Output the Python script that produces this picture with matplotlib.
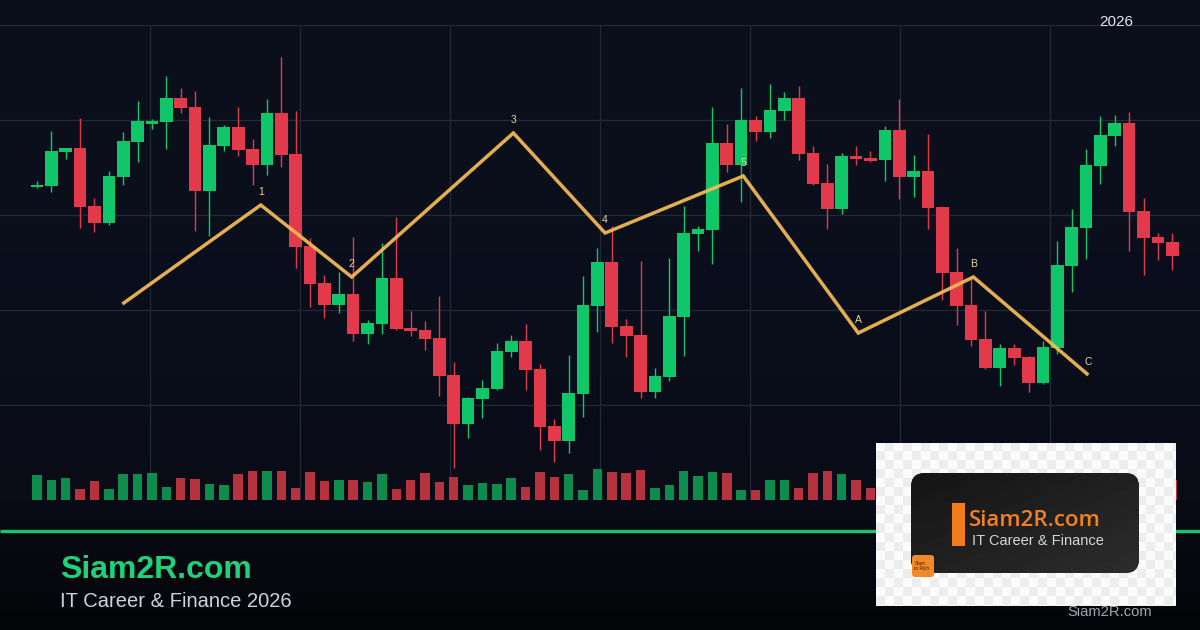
import numpy as np
import matplotlib
matplotlib.use("Agg")
import matplotlib.pyplot as plt
from matplotlib.patches import FancyBboxPatch, Rectangle
from matplotlib.colors import to_rgb

plt.rcParams['font.family'] = ['Liberation Sans', 'DejaVu Sans']

# ---------------- data ----------------
opens = [413, 414, 448, 452, 394, 377, 423, 458, 476, 478,
         502, 493, 409, 454, 473, 451, 435, 487, 446, 354,
         317, 295, 306, 266, 276, 322, 272, 270, 262, 225,
         176, 201, 211, 248, 259, 231, 174, 159, 206, 294,
         338, 274, 265, 208, 223, 283, 366, 370, 457, 435,
         480, 468, 489, 502, 447, 417, 391, 444, 442, 440,
         470, 423, 429, 393, 328, 295, 261, 232, 252, 243,
         217, 252, 334, 372, 434, 464, 477, 389, 363, 358]
highs = [419, 469, 452, 482, 402, 429, 468, 499, 481, 524,
         512, 509, 483, 475, 493, 461, 501, 543, 489, 362,
         325, 328, 363, 280, 357, 383, 289, 279, 304, 238,
         203, 220, 257, 265, 276, 236, 181, 245, 324, 352,
         374, 281, 339, 232, 342, 394, 374, 493, 476, 512,
         484, 516, 508, 514, 454, 436, 447, 454, 449, 474,
         501, 445, 466, 394, 352, 323, 289, 256, 256, 244,
         259, 359, 391, 451, 484, 485, 488, 402, 367, 367]
lows = [412, 408, 441, 372, 368, 375, 415, 438, 471, 451,
        487, 369, 364, 449, 444, 415, 425, 433, 332, 293,
        282, 287, 259, 256, 266, 270, 264, 250, 204, 132,
        162, 182, 210, 243, 210, 150, 138, 147, 183, 268,
        257, 243, 202, 202, 219, 244, 349, 336, 428, 398,
        459, 462, 480, 440, 415, 371, 386, 435, 438, 419,
        401, 403, 371, 300, 275, 254, 231, 214, 235, 208,
        216, 246, 308, 341, 416, 454, 349, 325, 340, 330]
closes = [415, 449, 452, 393, 377, 424, 459, 479, 479, 502,
          492, 409, 455, 473, 450, 435, 487, 445, 353, 316,
          295, 306, 266, 277, 322, 271, 269, 261, 224, 176,
          202, 212, 249, 259, 230, 173, 159, 207, 295, 338,
          273, 264, 208, 224, 284, 367, 371, 457, 435, 480,
          468, 490, 502, 446, 416, 391, 444, 441, 439, 470,
          423, 429, 392, 327, 294, 260, 232, 252, 242, 217,
          253, 335, 373, 435, 465, 477, 388, 362, 357, 344]
volumes = [25, 20, 22, 11, 19, 11, 26, 26, 27, 13,
           22, 21, 16, 15, 26, 29, 29, 29, 12, 28,
           19, 20, 20, 18, 26, 11, 20, 27, 18, 23,
           15, 17, 16, 22, 13, 28, 23, 26, 10, 31,
           28, 27, 30, 12, 15, 29, 24, 28, 27, 10,
           10, 20, 20, 12, 27, 29, 26, 20, 12, 18,
           22, 16, 25, 19, 27, 14, 21, 17, 24, 13,
           26, 29, 22, 18, 15, 27, 20, 23, 16, 20]

wave_x = [5.94, 15.57, 21.9, 33.15, 39.53, 49.15, 57.15, 65.16, 73.16]
wave_y = [296, 395, 323, 467, 367, 424, 267, 323, 225]
wave_labels = ["", "1", "2", "3", "4", "5", "A", "B", "C"]

# ---------------- style ----------------
GREEN = "#0fc769"
RED = "#e23a4a"
VGREEN = "#0d8c4d"
VRED = "#b5323f"
GRID = "#222938"
WAVE = "#f8bd55"

W, H = 1200, 630
fig = plt.figure(figsize=(12, 6.3), dpi=100)

# background gradient
bg = fig.add_axes([0, 0, 1, 1])
bg.set_xlim(0, W)
bg.set_ylim(H, 0)
bg.axis("off")
stops_y = [0, 250, 500, 532, 630]
stops_c = ["#0b0f1c", "#0b0f1d", "#090c17", "#080a12", "#040508"]
rgb = np.array([to_rgb(c) for c in stops_c])
yy = np.arange(H)
grad = np.stack([np.interp(yy, stops_y, rgb[:, k]) for k in range(3)], axis=1)
bg.imshow(grad[:, None, :], extent=(0, W, H, 0), aspect="auto", zorder=0)
bg.plot([0, W], [531, 531], color="#16c26d", lw=2.4, solid_capstyle="butt", zorder=1)

rect = [0, 130 / H, 1, 475 / H]

# grid
gax = fig.add_axes(rect)
gax.set_xlim(0, 8)
gax.set_ylim(0, 5)
gax.set_xticks(range(1, 8))
gax.set_yticks(range(6))
gax.grid(True, color=GRID, lw=0.9)
gax.tick_params(length=0, labelbottom=False, labelleft=False)
for s in gax.spines.values():
    s.set_visible(False)
gax.patch.set_alpha(0)

n = len(opens)
idx = np.arange(n)
xlim = (-2.575, 80.93)

# volume
vax = fig.add_axes(rect)
vax.set_xlim(*xlim)
vax.set_ylim(0, 475)
vax.axis("off")
vax.patch.set_alpha(0)
vcolors = [VGREEN if c >= o else VRED for o, c in zip(opens, closes)]
vax.bar(idx, volumes, width=0.66, color=vcolors, zorder=2)

# candles
ax = fig.add_axes(rect)
ax.set_xlim(*xlim)
ax.set_ylim(100, 575)
ax.axis("off")
ax.patch.set_alpha(0)
o = np.array(opens, float)
c = np.array(closes, float)
colors = [GREEN if cc >= oo else RED for oo, cc in zip(o, c)]
ax.vlines(idx, lows, highs, colors=colors, lw=1.0, zorder=3)
body_h = np.maximum(np.abs(c - o), 2.0)
ax.bar(idx, body_h, bottom=np.minimum(o, c), width=0.88, color=colors, zorder=4)

# wave line
ax.plot(wave_x, wave_y, color=WAVE, lw=2.5, alpha=0.92, zorder=6,
        solid_joinstyle="miter", solid_capstyle="butt")
for wx, wy, lab in zip(wave_x, wave_y, wave_labels):
    if lab:
        ax.annotate(lab, (wx, wy), xytext=(0, 5.5), textcoords="offset points",
                    ha="center", va="bottom", fontsize=7.5, color="#e8d29c", zorder=7)

# texts
fig.text(1116 / W, 1 - 26 / H, "2026", ha="center", va="baseline",
         fontsize=11, color="#e4e7ee")
fig.text(60 / W, 1 - 578 / H, "Siam2R.com", ha="left", va="baseline",
         fontsize=23, fontweight="bold", color="#1dd27c")
fig.text(60 / W, 1 - 607 / H, "IT Career & Finance 2026", ha="left", va="baseline",
         fontsize=14.5, color="#cfd3da")
fig.text(1110 / W, 1 - 616 / H, "Siam2R.com", ha="center", va="baseline",
         fontsize=10.6, color="#a3a8b0")

# logo card
lax = fig.add_axes([876 / W, (H - 606) / H, 300 / W, 163 / H])
lax.set_xlim(0, 300)
lax.set_ylim(163, 0)
lax.axis("off")
cy, cx = np.mgrid[0:163, 0:300]
checker = ((cx // 9 + cy // 9) % 2).astype(float)
light = np.array(to_rgb("#fbfbfb"))
dark = np.array(to_rgb("#ededed"))
chk_rgb = light[None, None, :] * (1 - checker[..., None]) + dark[None, None, :] * checker[..., None]
lax.imshow(chk_rgb, extent=(0, 300, 163, 0), aspect="auto",
           interpolation="nearest", zorder=0)
card = FancyBboxPatch((35 + 14, 30 + 14), 228 - 28, 100 - 28,
                      boxstyle="round,pad=14", facecolor="#202020",
                      edgecolor="none", zorder=1)
lax.add_patch(card)
gy, gx = np.mgrid[0:100, 0:228]
cg = 0.08 + 0.08 * (gx / 228) * 0.6 + 0.08 * (gy / 100) * 0.6
im = lax.imshow(cg, extent=(35, 263, 130, 30), cmap="gray", vmin=0, vmax=1,
                aspect="auto", zorder=2)
im.set_clip_path(card)
lax.add_patch(Rectangle((76, 60), 13, 43, facecolor="#f07c1c", edgecolor="none", zorder=3))
lax.text(93, 78, "Siam2R.com", ha="left", va="center", fontsize=16,
         color="#f2821f", fontfamily=["Open Sans", "DejaVu Sans"], fontweight="semibold", zorder=4)
lax.text(95.5, 98, "IT Career & Finance", ha="left", va="center", fontsize=10.5,
         color="#d6d6d6", zorder=4)
badge = FancyBboxPatch((36 + 3, 112 + 3), 22 - 6, 22 - 6, boxstyle="round,pad=3",
                       facecolor="#f08a28", edgecolor="none", zorder=5)
lax.add_patch(badge)
lax.text(38.5, 123, "Siam\nto Rich", ha="left", va="center", fontsize=3.4,
         color="#3b2206", linespacing=1.0, zorder=6)

fig.savefig("out.png", dpi=100, facecolor="#0b0f1c")
